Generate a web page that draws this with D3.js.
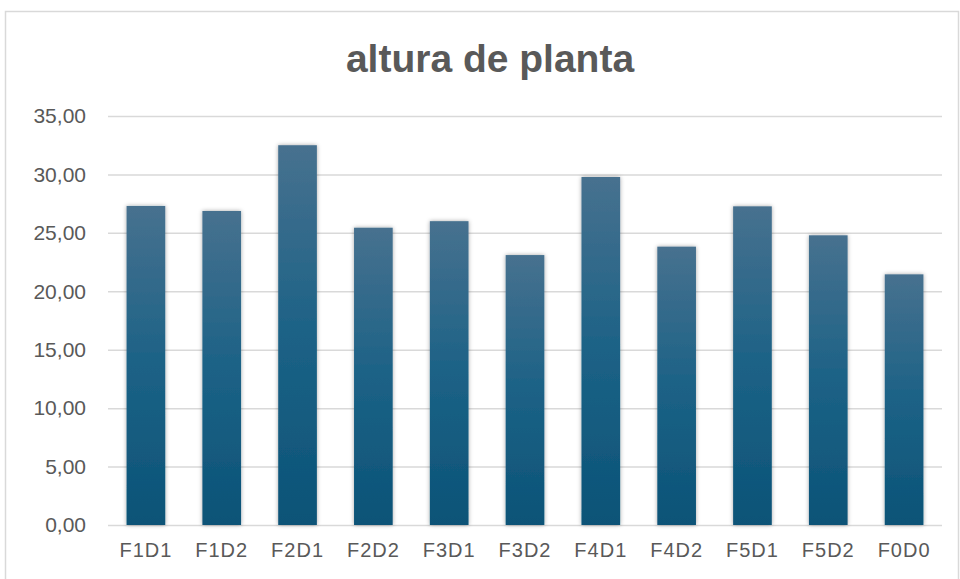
<!DOCTYPE html>
<html lang="pt">
<head>
  <meta charset="UTF-8">
  <title>altura de planta</title>
  <script src="https://d3js.org/d3.v7.min.js"></script>
  <style>
    body { margin: 0; background: #fff; }
    svg { display: block; font-family: "Liberation Sans", Arial, sans-serif; }
    .tick text { fill: #595959; }
  </style>
</head>
<body>
  <div id="chart"></div>
  <script>
    const categories = ["F1D1", "F1D2", "F2D1", "F2D2", "F3D1", "F3D2", "F4D1", "F4D2", "F5D1", "F5D2", "F0D0"];
    const alturas = [27.3, 26.87, 32.5, 25.44, 26.0, 23.1, 29.78, 23.82, 27.27, 24.79, 21.45];
    const yTicks = [0, 5, 10, 15, 20, 25, 30, 35];

    const width = 960;
    const height = 579;
    const margin = { top: 116, right: 18, bottom: 54, left: 108 };
    const innerW = width - margin.left - margin.right;
    const innerH = height - margin.top - margin.bottom;

    const svg = d3.select("#chart")
      .append("svg")
      .attr("width", width)
      .attr("height", height);

    // gradient + soft shadow like excel
    const defs = svg.append("defs");
    const grad = defs.append("linearGradient")
      .attr("id", "barGrad")
      .attr("x1", 0).attr("y1", 0).attr("x2", 0).attr("y2", 1);
    grad.append("stop").attr("offset", "0%").attr("stop-color", "#47718f");
    grad.append("stop").attr("offset", "50%").attr("stop-color", "#1c6286");
    grad.append("stop").attr("offset", "100%").attr("stop-color", "#0b5377");

    const shadow = defs.append("filter")
      .attr("id", "shadow")
      .attr("x", "-20%").attr("y", "-5%")
      .attr("width", "140%").attr("height", "110%");
    shadow.append("feDropShadow")
      .attr("dx", 0).attr("dy", 0)
      .attr("stdDeviation", 2)
      .attr("flood-color", "#000")
      .attr("flood-opacity", 0.35);

    // chart area border
    svg.append("rect")
      .attr("x", 5.5)
      .attr("y", 11.5)
      .attr("width", 953)
      .attr("height", 600)
      .attr("fill", "none")
      .attr("stroke", "#d9d9d9")
      .attr("stroke-width", 1.5);

    svg.append("text")
      .attr("x", 490)
      .attr("y", 72)
      .attr("text-anchor", "middle")
      .attr("font-size", 39)
      .attr("font-weight", "bold")
      .attr("fill", "#595959")
      .text("altura de planta");

    const g = svg.append("g")
      .attr("transform", `translate(${margin.left},${margin.top})`);

    const x = d3.scaleBand()
      .domain(categories)
      .range([0, innerW])
      .paddingInner(0.49)
      .paddingOuter(0.245);

    const y = d3.scaleLinear()
      .domain([0, 35])
      .range([innerH, 0]);

    const fmt = d => d3.format(".2f")(d).replace(".", ",");

    // gridlines + y labels
    g.append("g")
      .call(d3.axisLeft(y)
        .tickValues(yTicks)
        .tickSize(-innerW)
        .tickPadding(22)
        .tickFormat(fmt))
      .call(ax => ax.select(".domain").remove())
      .call(ax => ax.selectAll(".tick line")
        .attr("stroke", "#d9d9d9")
        .attr("stroke-width", 1.5))
      .call(ax => ax.selectAll(".tick text")
        .attr("font-size", 21)
        .attr("font-family", "Liberation Sans, Arial, sans-serif"));

    g.selectAll(".bar")
      .data(alturas)
      .enter()
      .append("rect")
      .attr("class", "bar")
      .attr("x", (d, i) => x(categories[i]))
      .attr("y", d => y(d))
      .attr("width", x.bandwidth())
      .attr("height", d => innerH - y(d))
      .attr("fill", "url(#barGrad)")
      .attr("filter", "url(#shadow)");

    g.append("g")
      .attr("transform", `translate(0,${innerH})`)
      .call(d3.axisBottom(x).tickSize(0).tickPadding(18))
      .call(ax => ax.select(".domain").remove())
      .call(ax => ax.selectAll(".tick text")
        .attr("font-size", 20)
        .attr("letter-spacing", 1)
        .attr("font-family", "Liberation Sans, Arial, sans-serif"));
  </script>
</body>
</html>
